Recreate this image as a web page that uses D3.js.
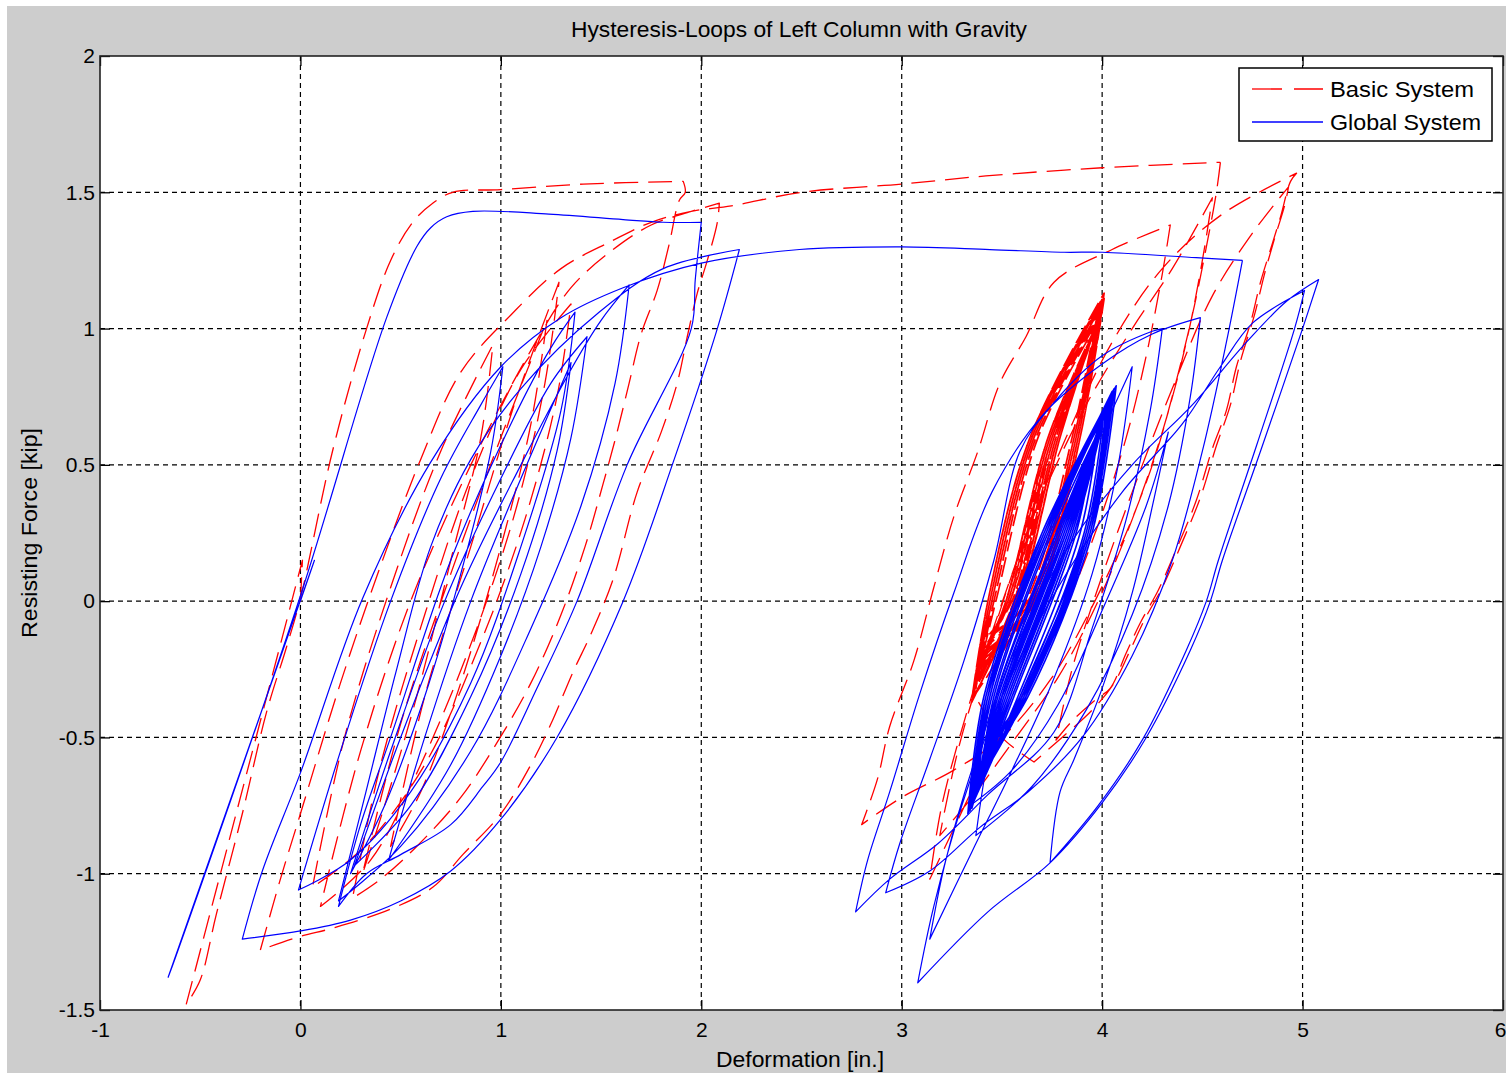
<!DOCTYPE html>
<html><head><meta charset="utf-8">
<script src="https://cdn.jsdelivr.net/npm/d3@7"></script>
<style>
html,body{margin:0;padding:0;background:#fff;}
svg{display:block;}
text{font-family:"Liberation Sans Narrow","Arial Narrow","Liberation Sans",Arial,sans-serif;fill:#000;}
</style></head><body>
<svg id="chart" width="1506" height="1073"></svg>
<script>
// ---------- data ----------
const titleText = "Hysteresis-Loops of Left Column with Gravity";
const xLabelText = "Deformation [in.]";
const yLabelText = "Resisting Force [kip]";
const seriesNames = ["Basic System", "Global System"];
const xTicks = [-1, 0, 1, 2, 3, 4, 5, 6];
const xTickLabels = ["-1", "0", "1", "2", "3", "4", "5", "6"];
const yTicks = [-1.5, -1, -0.5, 0, 0.5, 1, 1.5, 2];
const yTickLabels = ["-1.5", "-1", "-0.5", "0", "0.5", "1", "1.5", "2"];

// Basic System (red dashed)
const basicLeft = [
[0,0],[0.01,0.15],[-0.57,-1.48],[-0.50,-1.39],[-0.42,-1.15],[-0.29,-0.78],[-0.17,-0.41],[-0.07,-0.17],[0,0.01],
[0.16,0.55],[0.33,1.0],[0.45,1.25],[0.56,1.39],[0.66,1.46],[0.76,1.50],[1.0,1.51],[1.41,1.53],[1.91,1.54],[1.92,1.50],
[1.89,1.47],[1.84,1.31],[1.78,1.14],[1.70,0.98],[1.64,0.80],[1.58,0.62],[1.51,0.43],[1.42,0.2],[1.30,-0.05],[1.15,-0.30],[0.98,-0.52],[0.80,-0.72],[0.58,-0.90],[0.40,-1.02],[0.26,-1.09],
[0.40,-0.6],[0.62,-0.05],[0.85,0.45],[1.1,0.85],[1.35,1.09],
[1.28,0.75],[1.12,0.3],[0.90,-0.15],[0.62,-0.6],[0.32,-0.9],[0.06,-1.05],
[0.22,-0.5],[0.45,0.05],[0.70,0.55],[0.96,0.94],
[0.90,0.6],[0.75,0.15],[0.58,-0.35],[0.42,-0.75],[0.31,-1.0],
[0.50,-0.45],[0.75,0.1],[1.0,0.6],[1.23,1.03],
[1.15,0.65],[1.0,0.2],[0.8,-0.3],[0.6,-0.7],[0.45,-0.9],
[0.62,-0.35],[0.85,0.2],[1.08,0.75],[1.29,1.17],
[1.22,0.8],[1.08,0.35],[0.88,-0.1],[0.6,-0.6],[0.35,-0.95],[0.10,-1.12],
[0.3,-0.55],[0.55,0.0],[0.85,0.5],[1.15,0.92],[1.35,1.15],[1.56,1.29],
[1.75,1.38],[1.95,1.43],[2.09,1.46],
[2.08,1.39],[2.03,1.25],[1.98,1.13],[1.93,0.97],[1.88,0.80],[1.80,0.62],[1.68,0.40],[1.56,0.08],[1.45,-0.12],[1.36,-0.26],[1.25,-0.45],[1.15,-0.60],[1.0,-0.78],[0.81,-0.93],[0.66,-1.05],[0.45,-1.13],[0.16,-1.20],[0.0,-1.23],[-0.20,-1.28],
[-0.10,-1.02],[0.0,-0.78],[0.2,-0.3],[0.4,0.13],[0.6,0.52],[0.8,0.84],[1.05,1.05],[1.3,1.22],[1.55,1.32],[1.75,1.39],[1.95,1.43],[2.15,1.45],[2.5,1.50],[3.0,1.53],[3.42,1.56],[4.0,1.59],[4.59,1.61]
];
const basicRight = [
[4.59,1.61],
[4.57,1.50],[4.52,1.30],[4.45,1.05],[4.36,0.78],[4.26,0.52],[4.12,0.25],[3.95,-0.02],[3.75,-0.28],[3.50,-0.50],[3.26,-0.62],[3.0,-0.72],[2.80,-0.82],
[2.88,-0.65],[2.94,-0.46],[3.06,-0.22],[3.16,0.05],[3.26,0.31],[3.38,0.55],[3.49,0.80],[3.62,0.97],[3.76,1.17],[4.05,1.29],[4.34,1.38],
[4.30,1.2],[4.22,0.9],[4.12,0.6],[3.98,0.28],[3.82,-0.02],[3.62,-0.32],[3.40,-0.62],[3.25,-0.85],[3.14,-1.02],
[3.20,-0.75],[3.32,-0.42],[3.48,-0.05],[3.68,0.35],[3.92,0.72],[4.15,1.0],[4.35,1.22],[4.55,1.48],
[4.50,1.25],[4.42,0.95],[4.30,0.62],[4.15,0.30],[3.98,0.0],[3.78,-0.28],[3.55,-0.52],[3.35,-0.72],[3.19,-0.86],
[3.28,-0.55],[3.42,-0.20],[3.60,0.2],[3.82,0.6],[4.05,0.95],[4.30,1.22],[4.60,1.42],[4.97,1.57],
[4.94,1.54],[4.89,1.41],[4.84,1.29],[4.79,1.17],[4.74,1.02],[4.67,0.86],[4.62,0.70],[4.55,0.56],[4.47,0.37],[4.37,0.19],[4.28,0.04],[4.19,-0.08],[4.12,-0.19],[4.04,-0.32],[3.97,-0.36],[3.85,-0.44],[3.77,-0.51],
[3.85,-0.25],[3.98,0.05],[4.15,0.4],[4.35,0.78],[4.55,1.12],[4.75,1.35],[4.93,1.52],
[4.91,1.45],[4.86,1.33],[4.81,1.2],[4.76,1.05],[4.69,0.88],[4.64,0.72],[4.57,0.57],[4.49,0.38],[4.39,0.20],[4.30,0.05],[4.21,-0.07],[4.14,-0.18],[4.06,-0.30],[3.95,-0.40],[3.80,-0.50],[3.66,-0.59],[3.50,-0.50],[3.36,-0.34]
];
const basicBand = [
[3.36,-0.34],[3.44,0.0],[3.65,0.6],[3.99,1.08],[3.88,0.6],[3.65,0.0],
[3.39,-0.25],[3.52,0.0],[3.73,0.6],[3.95,0.98],[3.78,0.6],[3.57,0.0],
[3.35,-0.37],[3.43,0.0],[3.64,0.6],[4.01,1.12],[3.89,0.6],[3.67,0.0],
[3.42,-0.18],[3.54,0.0],[3.75,0.6],[3.92,0.90],[3.77,0.6],[3.56,0.0],
[3.37,-0.31],[3.45,0.0],[3.66,0.6],[3.98,1.05],[3.87,0.6],[3.64,0.0],
[3.44,-0.12],[3.54,0.0],[3.75,0.6],[3.89,0.84],[3.78,0.6],[3.57,0.0],
[3.36,-0.35],[3.44,0.0],[3.65,0.6],[4.00,1.10],[3.89,0.6],[3.66,0.0],
[3.40,-0.22],[3.53,0.0],[3.74,0.6],[3.94,0.95],[3.79,0.6],[3.58,0.0],
[3.38,-0.29],[3.46,0.0],[3.67,0.6],[3.97,1.03],[3.86,0.6],[3.63,0.0],
[3.43,-0.15],[3.54,0.0],[3.76,0.6],[3.91,0.88],[3.78,0.6],[3.56,0.0],
[3.36,-0.33],[3.44,0.0],[3.65,0.6],[3.99,1.09],[3.88,0.6],[3.66,0.0],
[3.41,-0.20],[3.52,0.0],[3.73,0.6],[3.93,0.93],[3.79,0.6],[3.58,0.0],
[3.37,-0.30],[3.45,0.0],[3.66,0.6],[3.98,1.06],[3.87,0.6],[3.64,0.0],
[3.35,-0.36],[3.43,0.0],[3.64,0.6],[4.01,1.11],[3.89,0.6],[3.67,0.0],
[3.39,-0.24],[3.47,0.0],[3.68,0.6],[3.96,1.00],[3.85,0.6],[3.62,0.0],
[3.42,-0.17],[3.53,0.0],[3.75,0.6],[3.92,0.91],[3.77,0.6],[3.56,0.0],
[3.37,-0.32],[3.45,0.0],[3.66,0.6],[3.99,1.07],[3.87,0.6],[3.64,0.0],
[3.40,-0.21],[3.52,0.0],[3.74,0.6],[3.95,0.97],[3.79,0.6],[3.58,0.0],
[3.36,-0.35],[3.44,0.0],[3.65,0.6],[4.00,1.11],[3.88,0.6],[3.66,0.0],
[3.41,-0.19],[3.54,0.0],[3.75,0.6],[3.93,0.92],[3.78,0.6],[3.57,0.0],
[3.38,-0.28],[3.46,0.0],[3.67,0.6],[3.97,1.02],[3.86,0.6],[3.63,0.0],
[3.44,-0.13],[3.55,0.0],[3.76,0.6],[3.90,0.86],[3.78,0.6],[3.57,0.0],
[3.35,-0.37],[3.43,0.0],[3.64,0.6],[4.01,1.13],[3.89,0.6],[3.67,0.0],
[3.39,-0.26],[3.52,0.0],[3.73,0.6],[3.96,0.99],[3.79,0.6],[3.58,0.0],
[3.38,-0.28]
];

// Global System (blue solid)
const globalLeft = [
[0,0],[0.07,0.15],[-0.66,-1.38],[-0.62,-1.30],[0,0.02],[0.43,1.04],[0.58,1.30],[0.65,1.37],[0.73,1.41],[0.86,1.43],[1.24,1.42],[1.61,1.40],[1.81,1.39],[2.0,1.39],
[1.97,1.18],[1.95,1.00],[1.63,0.50],[1.38,0.0],[1.18,-0.32],[1.0,-0.59],[0.91,-0.68],[0.75,-0.82],[0.50,-0.93],[0.33,-1.0],[0.19,-1.12],
[0.30,-0.82],[0.45,-0.5],[0.75,0.15],[1.05,0.65],[1.25,0.93],[1.37,1.06],
[1.30,0.7],[1.10,0.2],[0.85,-0.3],[0.55,-0.7],[0.25,-0.95],[-0.01,-1.06],
[0.2,-0.55],[0.45,0.0],[0.70,0.45],[0.90,0.72],[1.01,0.86],
[0.95,0.55],[0.8,0.1],[0.62,-0.35],[0.42,-0.75],[0.25,-1.0],
[0.45,-0.55],[0.72,0.0],[1.0,0.45],[1.25,0.8],[1.43,0.97],
[1.35,0.6],[1.2,0.2],[1.0,-0.2],[0.75,-0.6],[0.44,-0.95],
[0.62,-0.5],[0.85,0.0],[1.1,0.45],[1.35,0.875],
[1.28,0.55],[1.1,0.1],[0.85,-0.35],[0.55,-0.75],[0.27,-0.97],
[0.5,-0.5],[0.8,0.05],[1.1,0.5],[1.35,0.85],[1.5,1.03],[1.64,1.16],
[1.57,0.8],[1.40,0.35],[1.15,-0.1],[0.85,-0.55],[0.5,-0.9],[0.19,-1.1],
[0.32,-0.72],[0.48,-0.25],[0.65,0.2],[0.85,0.52],[1.10,0.78],[1.49,1.06],[1.81,1.22],[2.19,1.29],
[2.08,1.0],[1.86,0.51],[1.61,0.0],[1.28,-0.50],[1.0,-0.80],[0.75,-0.99],[0.5,-1.10],[0.25,-1.17],[0,-1.21],[-0.29,-1.24],
[-0.19,-0.99],[0,-0.63],[0.31,0.01],[0.65,0.51],[1.0,0.86],[1.30,1.04],[1.61,1.15],[2.0,1.24],[2.49,1.29],[3.0,1.30],[3.44,1.29],[3.81,1.28],[4.0,1.28],[4.47,1.26],[4.70,1.25]
];
const globalRight = [
[4.70,1.25],
[4.62,0.95],[4.50,0.55],[4.35,0.15],[4.15,-0.2],[3.90,-0.5],[3.63,-0.70],[3.39,-0.83],[3.14,-0.99],[2.92,-1.07],
[2.99,-0.89],[3.14,-0.58],[3.31,-0.22],[3.46,0.15],[3.59,0.55],[3.75,0.72],[4.0,0.9],[4.25,0.99],[4.30,1.0],
[4.24,0.7],[4.12,0.3],[3.95,-0.1],[3.76,-0.48],[3.43,-0.71],[3.18,-0.89],[2.94,-1.02],[2.77,-1.14],
[2.83,-0.95],[2.94,-0.70],[3.09,-0.34],[3.26,0.03],[3.45,0.4],[3.70,0.68],[4.0,0.87],[4.25,0.98],[4.49,1.04],
[4.44,0.75],[4.33,0.35],[4.15,-0.05],[3.92,-0.4],[3.65,-0.68],[3.37,-0.86],
[3.45,-0.5],[3.60,-0.1],[3.80,0.3],[4.0,0.62],[4.15,0.86],
[4.08,0.5],[3.95,0.1],[3.75,-0.3],[3.55,-0.62],[3.35,-0.92],[3.14,-1.24],
[3.22,-0.95],[3.38,-0.55],[3.58,-0.15],[3.85,0.22],[4.15,0.50],[4.45,0.72],[4.72,0.95],[4.92,1.10],[5.08,1.18],
[5.0,1.0],[4.79,0.55],[4.60,0.15],[4.54,0.0],[4.44,-0.18],[4.22,-0.50],[4.0,-0.74],[3.74,-0.96],[3.43,-1.14],[3.08,-1.40],
[3.16,-1.12],[3.30,-0.75],[3.50,-0.35],[3.78,0.05],[4.10,0.40],[4.40,0.65],[4.59,0.86],[4.75,1.02],[5.01,1.14],
[4.96,1.0],[4.77,0.57],[4.58,0.15],[4.52,0.0],[4.42,-0.18],[4.20,-0.51],[3.98,-0.75],[3.74,-0.96],
[3.79,-0.70],[3.86,-0.58],[4.0,-0.32],[4.15,0.03],[4.26,0.38],[4.33,0.62],
[4.22,0.35],[4.02,0.0],[3.78,-0.38],[3.55,-0.62],[3.36,-0.74]
];
const globalBand = [
[3.36,-0.74],[3.43,-0.35],[3.72,0.25],[4.04,0.74],[3.93,0.25],[3.60,-0.35],
[3.39,-0.66],[3.49,-0.35],[3.80,0.25],[4.00,0.66],[3.84,0.25],[3.53,-0.35],
[3.34,-0.77],[3.42,-0.35],[3.71,0.25],[4.06,0.78],[3.94,0.25],[3.62,-0.35],
[3.42,-0.58],[3.51,-0.35],[3.81,0.25],[3.96,0.58],[3.83,0.25],[3.52,-0.35],
[3.37,-0.71],[3.44,-0.35],[3.73,0.25],[4.02,0.70],[3.92,0.25],[3.60,-0.35],
[3.44,-0.52],[3.50,-0.35],[3.82,0.25],[3.93,0.50],[3.84,0.25],[3.52,-0.35],
[3.35,-0.76],[3.43,-0.35],[3.72,0.25],[4.05,0.76],[3.94,0.25],[3.61,-0.35],
[3.40,-0.64],[3.48,-0.35],[3.79,0.25],[3.99,0.64],[3.85,0.25],[3.54,-0.35],
[3.38,-0.69],[3.44,-0.35],[3.73,0.25],[4.01,0.70],[3.91,0.25],[3.59,-0.35],
[3.43,-0.56],[3.50,-0.35],[3.81,0.25],[3.95,0.56],[3.84,0.25],[3.53,-0.35],
[3.36,-0.73],[3.42,-0.35],[3.71,0.25],[4.03,0.73],[3.93,0.25],[3.61,-0.35],
[3.41,-0.61],[3.49,-0.35],[3.80,0.25],[3.97,0.61],[3.84,0.25],[3.54,-0.35],
[3.37,-0.70],[3.45,-0.35],[3.74,0.25],[4.02,0.71],[3.92,0.25],[3.59,-0.35],
[3.35,-0.75],[3.43,-0.35],[3.72,0.25],[4.05,0.77],[3.94,0.25],[3.62,-0.35],
[3.40,-0.63],[3.46,-0.35],[3.75,0.25],[3.98,0.62],[3.89,0.25],[3.58,-0.35],
[3.38,-0.68],[3.47,-0.35],[3.78,0.25],[4.01,0.68],[3.86,0.25],[3.55,-0.35],
[3.33,-0.78],[3.41,-0.35],[3.70,0.25],[4.07,0.79],[3.95,0.25],[3.63,-0.35],
[3.41,-0.60],[3.50,-0.35],[3.80,0.25],[3.97,0.60],[3.83,0.25],[3.52,-0.35],
[3.36,-0.72],[3.44,-0.35],[3.70,0.25],[4.03,0.72],[3.95,0.25],[3.62,-0.35],
[3.39,-0.65],[3.48,-0.35],[3.79,0.25],[3.99,0.65],[3.85,0.25],[3.54,-0.35],
[3.35,-0.74],[3.42,-0.35],[3.73,0.25],[4.04,0.75],[3.92,0.25],[3.61,-0.35],
[3.43,-0.55],[3.51,-0.35],[3.82,0.25],[3.94,0.54],[3.84,0.25],[3.53,-0.35],
[3.37,-0.70],[3.43,-0.35],[3.71,0.25],[4.02,0.69],[3.94,0.25],[3.61,-0.35],
[3.40,-0.62],[3.49,-0.35],[3.80,0.25],[3.98,0.63],[3.85,0.25],[3.54,-0.35],
[3.34,-0.76],[3.42,-0.35],[3.72,0.25],[4.06,0.77],[3.93,0.25],[3.62,-0.35],
[3.38,-0.67],[3.48,-0.35],[3.79,0.25],[4.00,0.67],[3.86,0.25],[3.55,-0.35],
[3.42,-0.59],[3.47,-0.35],[3.77,0.25],[3.96,0.59],[3.87,0.25],[3.56,-0.35],
[3.36,-0.73],[3.43,-0.35],[3.72,0.25],[4.03,0.73],[3.93,0.25],[3.60,-0.35],
[3.37,-0.70]
];

// ---------- drawing ----------
const W = 1506, H = 1073;
const svg = d3.select("#chart");
const x = d3.scaleLinear().domain([-1, 6]).range([100, 1503]);
const y = d3.scaleLinear().domain([-1.5, 2]).range([1010, 56]);
const [x0, x1] = x.range();
const [y0, y1] = [y(2), y(-1.5)];

svg.append("rect").attr("x", 7).attr("y", 6).attr("width", W - 7).attr("height", H - 6).attr("fill", "#cdcdcd");
svg.append("rect").attr("x", x0).attr("y", y0).attr("width", x1 - x0).attr("height", y1 - y0).attr("fill", "#fff");

svg.append("defs").append("clipPath").attr("id", "plotclip")
  .append("rect").attr("x", x0).attr("y", y0).attr("width", x1 - x0).attr("height", y1 - y0);

// grid
const grid = svg.append("g").attr("stroke", "#000").attr("stroke-width", 1.2).attr("stroke-dasharray", "5,4");
xTicks.filter(d => d > -1 && d < 6).forEach(d => {
  grid.append("line").attr("x1", x(d)).attr("x2", x(d)).attr("y1", y0).attr("y2", y1);
});
yTicks.filter(d => d > -1.5 && d < 2).forEach(d => {
  grid.append("line").attr("x1", x0).attr("x2", x1).attr("y1", y(d)).attr("y2", y(d));
});

// smooth between reversal points, keep the reversal tips sharp
function hystPath(pts) {
  const px = pts.map(d => [x(d[0]), y(d[1])]);
  const pieces = [];
  let cur = [px[0]];
  for (let i = 1; i < px.length; i++) {
    cur.push(px[i]);
    if (i < px.length - 1) {
      const ax = px[i][0] - px[i - 1][0], ay = px[i][1] - px[i - 1][1];
      const bx = px[i + 1][0] - px[i][0], by = px[i + 1][1] - px[i][1];
      const cos = (ax * bx + ay * by) / (Math.hypot(ax, ay) * Math.hypot(bx, by) || 1);
      if (cos < Math.cos(55 * Math.PI / 180)) { pieces.push(cur); cur = [px[i]]; }
    }
  }
  pieces.push(cur);
  const p = d3.path();
  let first = true;
  const ctx = {
    moveTo(a, b) { if (first) { p.moveTo(a, b); first = false; } else p.lineTo(a, b); },
    lineTo(a, b) { p.lineTo(a, b); },
    bezierCurveTo(a, b, c, d, e, f) { p.bezierCurveTo(a, b, c, d, e, f); },
    closePath() { p.closePath(); }
  };
  const gen = d3.line().curve(d3.curveCatmullRom.alpha(0.5)).context(ctx);
  pieces.forEach(pc => gen(pc));
  return p.toString();
}

const plot = svg.append("g").attr("clip-path", "url(#plotclip)")
  .attr("fill", "none").attr("stroke-linejoin", "round");

const redStyles = [
  { s: basicLeft, w: 1.3, dash: "24,10" },
  { s: basicRight, w: 1.3, dash: "24,10" },
  { s: basicBand, w: 1.7, dash: "20,6" }
];
redStyles.forEach(o => {
  plot.append("path").attr("d", hystPath(o.s)).attr("stroke", "#ff0000")
    .attr("stroke-width", o.w).attr("stroke-dasharray", o.dash);
});
const blueStyles = [
  { s: globalLeft, w: 1.2 },
  { s: globalRight, w: 1.2 },
  { s: globalBand, w: 1.6 }
];
blueStyles.forEach(o => {
  plot.append("path").attr("d", hystPath(o.s)).attr("stroke", "#0000ff").attr("stroke-width", o.w);
});

// axes
const fs = 21;
const ax = svg.append("g").attr("transform", `translate(0,${y1})`)
  .call(d3.axisBottom(x).tickValues(xTicks).tickFormat((d, i) => xTickLabels[i])
    .tickSizeInner(-10).tickSizeOuter(0).tickPadding(12));
const ay = svg.append("g").attr("transform", `translate(${x0},0)`)
  .call(d3.axisLeft(y).tickValues(yTicks).tickFormat((d, i) => yTickLabels[i])
    .tickSizeInner(-10).tickSizeOuter(0).tickPadding(5));
const at = svg.append("g").attr("transform", `translate(0,${y0})`)
  .call(d3.axisTop(x).tickValues(xTicks).tickFormat("").tickSizeInner(-10).tickSizeOuter(0));
const ar = svg.append("g").attr("transform", `translate(${x1},0)`)
  .call(d3.axisRight(y).tickValues(yTicks).tickFormat("").tickSizeInner(-10).tickSizeOuter(0));
[ax, ay, at, ar].forEach(g => {
  g.select(".domain").remove();
  g.selectAll(".tick line").attr("stroke", "#000").attr("stroke-width", 1.3);
  g.selectAll("text").attr("font-size", fs).attr("fill", "#000")
    .attr("font-family", '"Liberation Sans Narrow","Arial Narrow","Liberation Sans",Arial,sans-serif');
});
// keep the last x label inside the picture (the reference shows it at the right edge)
ax.selectAll(".tick").filter(d => d === 6).select("text").attr("text-anchor", "end").attr("dx", 3);

// box
svg.append("rect").attr("x", x0).attr("y", y0).attr("width", x1 - x0).attr("height", y1 - y0)
  .attr("fill", "none").attr("stroke", "#222").attr("stroke-width", 1.6);

// title & labels
svg.append("text").attr("x", 799).attr("y", 37).attr("text-anchor", "middle")
  .attr("font-size", 22).attr("textLength", 456).attr("lengthAdjust", "spacingAndGlyphs").text(titleText);
svg.append("text").attr("x", 800).attr("y", 1067).attr("text-anchor", "middle")
  .attr("font-size", 22).attr("textLength", 168).attr("lengthAdjust", "spacingAndGlyphs").text(xLabelText);
svg.append("text").attr("transform", "translate(37,533) rotate(-90)").attr("text-anchor", "middle")
  .attr("font-size", 22).attr("textLength", 210).attr("lengthAdjust", "spacingAndGlyphs").text(yLabelText);

// legend
const lg = svg.append("g");
lg.append("rect").attr("x", 1239).attr("y", 68).attr("width", 253).attr("height", 73)
  .attr("fill", "#fff").attr("stroke", "#000").attr("stroke-width", 1.5);
lg.append("line").attr("x1", 1252).attr("x2", 1323).attr("y1", 89).attr("y2", 89)
  .attr("stroke", "#ff0000").attr("stroke-width", 1.3).attr("stroke-dasharray", "30,12");
lg.append("line").attr("x1", 1252).attr("x2", 1323).attr("y1", 122).attr("y2", 122)
  .attr("stroke", "#0000ff").attr("stroke-width", 1.3);
lg.append("text").attr("x", 1330).attr("y", 97).attr("font-size", 22)
  .attr("textLength", 144).attr("lengthAdjust", "spacingAndGlyphs").text(seriesNames[0]);
lg.append("text").attr("x", 1330).attr("y", 130).attr("font-size", 22)
  .attr("textLength", 151).attr("lengthAdjust", "spacingAndGlyphs").text(seriesNames[1]);
</script>
</body></html>
